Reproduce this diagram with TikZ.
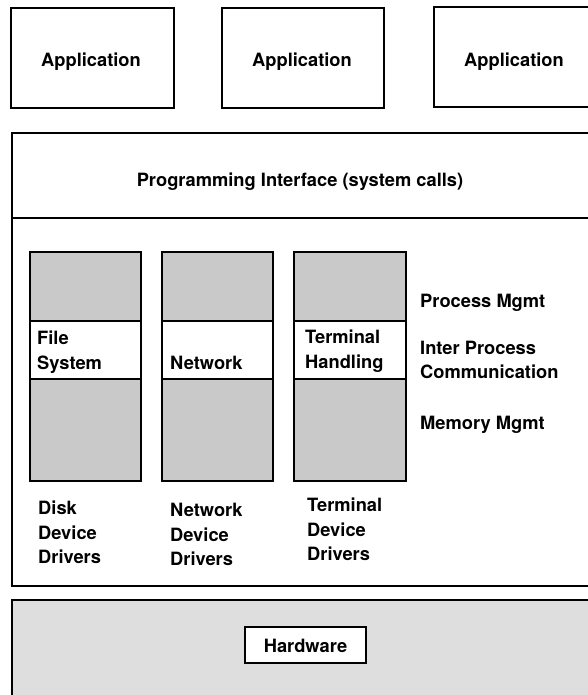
\documentclass[tikz,border=0pt]{standalone}
\usepackage{fontspec}
\setmainfont{TeX Gyre Heros}
\begin{document}
\begin{tikzpicture}[x=1pt,y=-1pt,
  box/.style={draw=black,line width=2pt,inner sep=0pt,outer sep=0pt},
  lbl/.style={anchor=base west,inner sep=0pt,font=\fontsize{18.3}{24}\selectfont\bfseries},
  clbl/.style={anchor=base,inner sep=0pt,font=\fontsize{18.3}{24}\selectfont\bfseries},
  shade/.style={fill=black!21},
  hwshade/.style={fill=black!13}]
\useasboundingbox (0,0) rectangle (588,695);
\clip (0,0) rectangle (588,695);
\fill[white] (0,0) rectangle (588,695);

% applications
\node[box,minimum width=163pt,minimum height=100pt] (app1) at (92.5,58) {};
\node[box,minimum width=162pt,minimum height=100pt] (app2) at (303,58) {};
\node[box,minimum width=163pt,minimum height=100pt] (app3) at (515.5,57) {};
\node[clbl] (t1) at (91,66.5) {Application};
\node[clbl] (t2) at (302,66.5) {Application};
\node[clbl] (t3) at (514,66.5) {Application};

% kernel box
\node[box,anchor=north west,minimum width=590pt,minimum height=453pt] (kernel) at (12,133) {};
\coordinate (sepL) at (12,218);
\coordinate (sepR) at (600,218);
\draw[line width=2pt] (sepL) -- (sepR);
\node[clbl] (pi) at (300,186) {Programming Interface (system calls)};

% columns
\foreach \n/\xa/\xb in {c1/30/141,c2/162/273,c3/294/406}{
  \path[shade] (\xa,252) rectangle (\xb,321);
  \path[shade] (\xa,379) rectangle (\xb,481);
  \node[box,anchor=north west,minimum width=\xb pt-\xa pt,minimum height=229pt] (\n) at (\xa,252) {};
  \draw[line width=2pt] (\xa,321) -- (\xb,321);
  \draw[line width=2pt] (\xa,379) -- (\xb,379);
}

\node[lbl] (fs1) at (37,344.5) {File};
\node[lbl] (fs2) at (37,369.5) {System};
\node[lbl] (nw) at (170,369.5) {Network};
\node[lbl] (th1) at (305,343.5) {Terminal};
\node[lbl] (th2) at (305,368.5) {Handling};

\node[lbl] (pm) at (420,307.5) {Process Mgmt};
\node[lbl] (ipc1) at (420,354.5) {Inter Process};
\node[lbl] (ipc2) at (420,378.5) {Communication};
\node[lbl] (mm) at (420,429.5) {Memory Mgmt};

\node[lbl] (dd1) at (38,514.5) {Disk};
\node[lbl] (dd2) at (38,539.5) {Device};
\node[lbl] (dd3) at (38,563.5) {Drivers};
\node[lbl] (nd1) at (170,516.5) {Network};
\node[lbl] (nd2) at (170,541.5) {Device};
\node[lbl] (nd3) at (170,565.5) {Drivers};
\node[lbl] (td1) at (307,511.5) {Terminal};
\node[lbl] (td2) at (307,536.5) {Device};
\node[lbl] (td3) at (307,560.5) {Drivers};

% hardware
\node[box,hwshade,anchor=north west,minimum width=590pt,minimum height=110pt] (hw) at (12,600) {};
\node[box,fill=white,minimum width=121pt,minimum height=36pt] (hwl) at (305.5,645) {};
\node[clbl] (hwt) at (305.5,652.5) {Hardware};
\end{tikzpicture}
\end{document}
